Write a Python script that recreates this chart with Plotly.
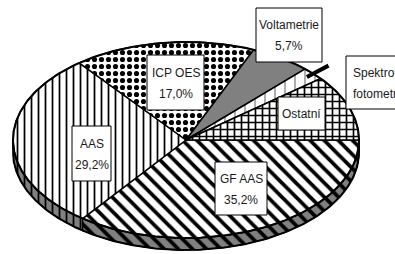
import numpy as np
import plotly.graph_objects as go

# ---- data ----
categories = ["GF AAS", "AAS", "ICP OES", "Voltametrie", "Spektrofotometrie", "Ostatní"]
values = [35.2, 29.2, 17.0, 5.7, 2.1, 10.8]
label_names = [["GF AAS"], ["AAS"], ["ICP OES"], ["Voltametrie"], ["Spektro", "fotometrie"], ["Ostatní"]]
show_pct = [True, True, True, True, False, False]

# ---- style / geometry ----
CX, CY, RX, RY, DEPTH = 186, 140, 173, 98, 12
patterns = {
    "GF AAS": dict(shape="\\", size=10, solidity=0.38),
    "AAS": dict(shape="|", size=7, solidity=0.25),
    "ICP OES": dict(shape=".", size=7, solidity=0.42),
    "Voltametrie": None,
    "Spektrofotometrie": dict(shape="|", size=10, solidity=0.12),
    "Ostatní": dict(shape="+", size=7, solidity=0.42),
}
base_colors = {"Voltametrie": "#808080"}
pattern_fg = {"Spektrofotometrie": "#777777"}
# label boxes (x0, y0, x1, y1) in pixel space
label_boxes = {
    "GF AAS": (215, 162, 267, 215),
    "AAS": (72, 126, 111, 181),
    "ICP OES": (147, 55, 204, 110),
    "Voltametrie": (256, 8, 322, 62),
    "Spektrofotometrie": (346, 56, 404, 109),
    "Ostatní": (278, 97, 325, 130),
}
left_aligned = {"Spektrofotometrie": 351}


def pt(th, f=1.0, dy=0.0):
    r = np.radians(th)
    return CX + f * RX * np.cos(r), CY - f * RY * np.sin(r) + dy


def arc(a, b, f=1.0, dy=0.0):
    n = max(4, int(abs(b - a) * 2))
    th = np.linspace(a, b, n)
    return pt(th, f, dy)


fig = go.Figure()

total = sum(values)
angles = []
start = 0.0
for v in values:
    hi = start
    lo = start - v / total * 360.0
    angles.append((lo, hi))
    start = lo

# side (visible front) bands
for cat, (lo, hi) in zip(categories, angles):
    a, b = max(lo, -180.0), min(hi, 0.0)
    if b <= a:
        continue
    xt, yt = arc(a, b)
    xb, yb = arc(b, a, dy=DEPTH)
    xs = np.concatenate([xt, xb, xt[:1]])
    ys = np.concatenate([yt, yb, yt[:1]])
    p = patterns[cat]
    kw = {}
    if p:
        kw["fillpattern"] = dict(**p, fgcolor="black", bgcolor="#808080", fillmode="replace")
    fig.add_trace(go.Scatter(x=xs, y=ys, mode="lines", fill="toself",
                             fillcolor="#808080", line=dict(color="black", width=1.2),
                             hoverinfo="skip", showlegend=False, **kw))

# top face slices
for cat, (lo, hi) in zip(categories, angles):
    xa, ya = arc(hi, lo)
    xs = np.concatenate([[CX], xa, [CX]])
    ys = np.concatenate([[CY], ya, [CY]])
    p = patterns[cat]
    bg = base_colors.get(cat, "white")
    kw = {}
    if p:
        kw["fillpattern"] = dict(**p, fgcolor=pattern_fg.get(cat, "black"), bgcolor=bg, fillmode="replace")
    fig.add_trace(go.Scatter(x=xs, y=ys, mode="lines", fill="toself", fillcolor=bg,
                             line=dict(color="black", width=1.5),
                             hoverinfo="skip", showlegend=False, name=cat, **kw))

# outer outline
xo, yo = arc(0, 360)
fig.add_trace(go.Scatter(x=xo, y=yo, mode="lines", line=dict(color="black", width=2),
                         hoverinfo="skip", showlegend=False))
xb, yb = arc(-180, 0, dy=DEPTH)
xl, yl = pt(-180.0)
xr, yr = pt(0.0)
fig.add_trace(go.Scatter(x=np.concatenate([[xl], xb, [xr]]),
                         y=np.concatenate([[yl], yb, [yr]]),
                         mode="lines", line=dict(color="black", width=2),
                         hoverinfo="skip", showlegend=False))

# leader line for Spektrofotometrie
i_sp = categories.index("Spektrofotometrie")
mid = sum(angles[i_sp]) / 2
x1, y1 = pt(mid, 0.95)
x2, y2 = pt(mid, 1.12)
fig.add_trace(go.Scatter(x=[x1, x2], y=[y1, y2], mode="lines",
                         line=dict(color="black", width=4),
                         hoverinfo="skip", showlegend=False))

# labels
font = dict(family="Liberation Sans, Arial, sans-serif", size=12, color="#1a1a1a")
for cat, v, names, sp in zip(categories, values, label_names, show_pct):
    x0, y0, x1b, y1b = label_boxes[cat]
    fig.add_shape(type="rect", x0=x0, y0=y0, x1=x1b, y1=y1b, xref="x", yref="y",
                  fillcolor="white", line=dict(color="black", width=1), layer="above")
    lines = list(names)
    if sp:
        lines.append(f"{v:.1f}".replace(".", ",") + "%")
    cxl = (x0 + x1b) / 2
    cyl = (y0 + y1b) / 2
    if len(lines) == 1:
        ys_l = [cyl]
    else:
        ys_l = [cyl - 10, cyl + 11]
    for t, yy in zip(lines, ys_l):
        if cat in left_aligned:
            fig.add_annotation(x=left_aligned[cat], y=yy, xref="x", yref="y", text=t,
                               showarrow=False, font=font, xanchor="left", yanchor="middle")
        else:
            fig.add_annotation(x=cxl, y=yy, xref="x", yref="y", text=t, showarrow=False,
                               font=font, xanchor="center", yanchor="middle")

fig.update_layout(
    width=395, height=254,
    margin=dict(l=0, r=0, t=0, b=0),
    paper_bgcolor="white", plot_bgcolor="white",
    xaxis=dict(range=[0, 395], visible=False, fixedrange=True),
    yaxis=dict(range=[254, 0], visible=False, fixedrange=True),
    showlegend=False,
)
fig.write_html("out.html", config={"displayModeBar": False},
               post_script="document.body.style.margin='0';document.body.style.overflow='hidden';")
